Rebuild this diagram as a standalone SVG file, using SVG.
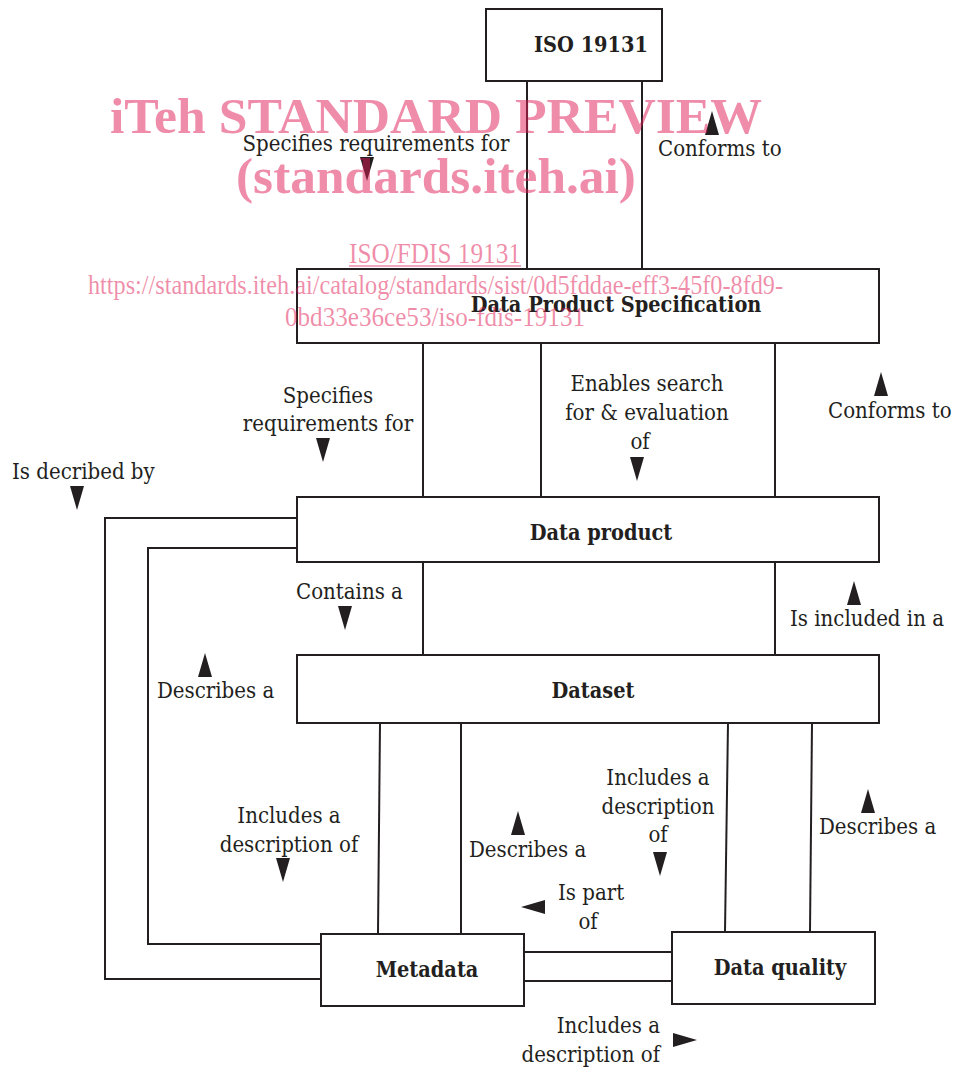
<svg xmlns="http://www.w3.org/2000/svg" width="956" height="1068" viewBox="0 0 956 1068">
<style>
.box{fill:#fff;stroke:#231f20;stroke-width:2}
.ln{fill:none;stroke:#231f20;stroke-width:2}
.t{font-family:"DejaVu Serif Condensed","Liberation Serif",serif;font-size:22px;fill:#231f20}
.b{font-family:"DejaVu Serif Condensed","Liberation Serif",serif;font-size:21.5px;font-weight:bold;fill:#231f20;text-anchor:middle}
.m{text-anchor:middle}
.e{text-anchor:end}
.arr{fill:#231f20}
.wm{font-family:"Liberation Serif",serif;fill:#e01a55;fill-opacity:0.5}
</style>
<defs>
<path id="dn" d="M-7,0 L7,0 L0,24 Z"/>
<path id="up" d="M-7,24 L7,24 L0,0 Z"/>
<path id="lf" d="M0,0 L24,-7 L24,7 Z"/>
<path id="rt" d="M0,-7 L0,7 L24,0 Z"/>
</defs>
<rect width="956" height="1068" fill="#fff"/>
<g id="connectors">
<line class="ln" x1="527" y1="81" x2="527" y2="269"/>
<line class="ln" x1="642" y1="81" x2="642" y2="269"/>
<line class="ln" x1="423" y1="343" x2="423" y2="497"/>
<line class="ln" x1="541" y1="343" x2="541" y2="497"/>
<line class="ln" x1="775" y1="343" x2="775" y2="497"/>
<line class="ln" x1="423" y1="562" x2="423" y2="655"/>
<line class="ln" x1="775" y1="562" x2="775" y2="655"/>
<line class="ln" x1="380" y1="723" x2="378" y2="934"/>
<line class="ln" x1="461" y1="723" x2="461" y2="934"/>
<line class="ln" x1="728" y1="723" x2="725" y2="932"/>
<line class="ln" x1="812" y1="723" x2="810" y2="932"/>
<line class="ln" x1="524" y1="952" x2="672" y2="952"/>
<line class="ln" x1="524" y1="981" x2="672" y2="981"/>
<polyline class="ln" points="297,518 105,518 105,979 321,979"/>
<polyline class="ln" points="297,548 148,548 148,944 321,944"/>
</g>
<g id="iso19131"><rect class="box" x="486" y="9" width="176" height="72"/><text class="b" x="591" y="52">ISO 19131</text></g>
<g id="dps"><rect class="box" x="297" y="269" width="582" height="74"/><text class="b" x="616" y="312">Data Product Specification</text></g>
<g id="dataproduct"><rect class="box" x="297" y="497" width="582" height="65"/><text class="b" x="601" y="540">Data product</text></g>
<g id="dataset"><rect class="box" x="297" y="655" width="582" height="68"/><text class="b" x="593" y="698">Dataset</text></g>
<g id="metadata"><rect class="box" x="321" y="934" width="203" height="72"/><text class="b" x="427" y="977">Metadata</text></g>
<g id="dataquality"><rect class="box" x="672" y="932" width="203" height="72"/><text class="b" x="780" y="975">Data quality</text></g>
<g id="labels">
<text class="t m" x="376" y="151">Specifies requirements for</text>
<use href="#dn" class="arr" x="367" y="157"/>
<text class="t" x="658" y="156">Conforms to</text>
<use href="#up" class="arr" x="712" y="111"/>
<text class="t m" x="328" y="403">Specifies</text>
<text class="t m" x="328" y="431">requirements for</text>
<use href="#dn" class="arr" x="323" y="438"/>
<text class="t m" x="647" y="391">Enables search</text>
<text class="t m" x="647" y="420">for &amp; evaluation</text>
<text class="t m" x="640" y="449">of</text>
<use href="#dn" class="arr" x="637" y="457"/>
<use href="#up" class="arr" x="881" y="372"/>
<text class="t" x="828" y="418">Conforms to</text>
<text class="t" x="12" y="479">Is decribed by</text>
<use href="#dn" class="arr" x="77" y="486"/>
<text class="t" x="296" y="599">Contains a</text>
<use href="#dn" class="arr" x="345" y="606"/>
<use href="#up" class="arr" x="854" y="581"/>
<text class="t" x="790" y="626">Is included in a</text>
<use href="#up" class="arr" x="205" y="653"/>
<text class="t" x="157" y="698">Describes a</text>
<text class="t m" x="289" y="823">Includes a</text>
<text class="t m" x="289" y="852">description of</text>
<use href="#dn" class="arr" x="283" y="858"/>
<use href="#up" class="arr" x="518" y="811"/>
<text class="t" x="469" y="857">Describes a</text>
<text class="t m" x="658" y="785">Includes a</text>
<text class="t m" x="658" y="814">description</text>
<text class="t m" x="658" y="842">of</text>
<use href="#dn" class="arr" x="660" y="852"/>
<use href="#up" class="arr" x="868" y="789"/>
<text class="t" x="819" y="834">Describes a</text>
<use href="#lf" class="arr" x="521" y="907"/>
<text class="t" x="558" y="900">Is part</text>
<text class="t m" x="588" y="929">of</text>
<text class="t e" x="660" y="1033">Includes a</text>
<text class="t e" x="660" y="1062">description of</text>
<use href="#rt" class="arr" x="673" y="1040"/>
</g>
<g id="watermark">
<text class="wm" x="110" y="133" font-size="50" font-weight="bold" textLength="652" lengthAdjust="spacingAndGlyphs">iTeh STANDARD PREVIEW</text>
<text class="wm" x="236" y="193" font-size="50" font-weight="bold" textLength="400" lengthAdjust="spacingAndGlyphs">(standards.iteh.ai)</text>
<text class="wm" x="349" y="263" font-size="29" textLength="172" lengthAdjust="spacingAndGlyphs">ISO/FDIS 19131</text>
<line x1="349" y1="266" x2="521" y2="266" stroke="#e01a55" stroke-opacity="0.5" stroke-width="1.5"/>
<text class="wm" x="88" y="294" font-size="28" textLength="695" lengthAdjust="spacingAndGlyphs">https://standards.iteh.ai/catalog/standards/sist/0d5fddae-eff3-45f0-8fd9-</text>
<text class="wm" x="285" y="326" font-size="28" textLength="300" lengthAdjust="spacingAndGlyphs">0bd33e36ce53/iso-fdis-19131</text>
</g>
</svg>
